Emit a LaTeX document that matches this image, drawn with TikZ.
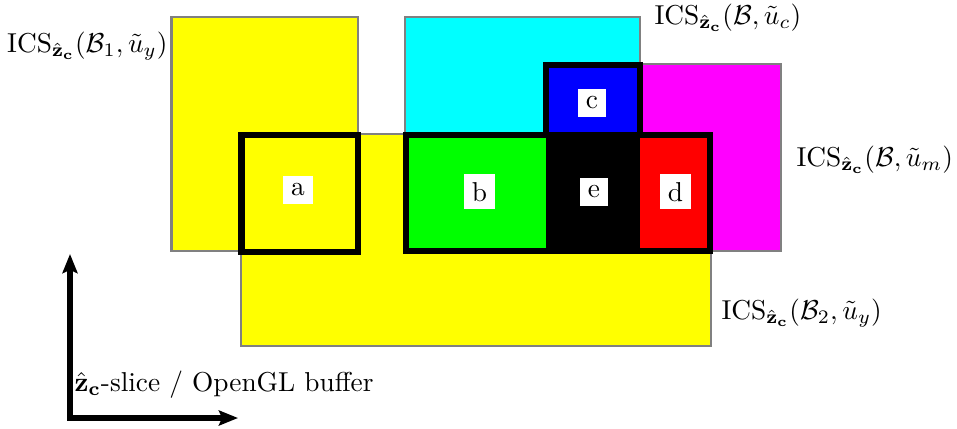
\documentclass[tikz,border=0pt]{standalone}
\usetikzlibrary{arrows.meta}
\newcommand{\zc}{\hat{\mathbf{z}}_{\mathbf{c}}}
\definecolor{cY}{RGB}{255,255,0}
\definecolor{cC}{RGB}{0,255,255}
\definecolor{cM}{RGB}{255,0,255}
\definecolor{cB}{RGB}{0,0,255}
\definecolor{cG}{RGB}{0,255,0}
\definecolor{cR}{RGB}{255,0,0}
\definecolor{cGray}{RGB}{128,128,128}
\begin{document}
\begin{tikzpicture}[x=0.3658pt,y=-0.3658pt,
  region/.style={draw=cGray, line width=0.8pt},
  thickbox/.style={draw=black, line width=2.2pt, line join=miter},
  lbl/.style={fill=white, inner sep=2.9pt},
  settext/.style={inner sep=0pt}]
\useasboundingbox (0,0) rectangle (957,428);
% regions
\filldraw[region, fill=cY] (171.5,17) rectangle (358,251);
\filldraw[region, fill=cY] (241,134) rectangle (711,346);
\filldraw[region, fill=cC] (405,17) rectangle (640,134);
\filldraw[region, fill=cM] (640,64) rectangle (781,251);
% fills
\fill[cG] (406,135) rectangle (546,251);
\fill[black] (546,135) rectangle (640,251);
\fill[cR] (640,135) rectangle (710,251);
\fill[cB] (546,65) rectangle (640,135);
% thick boxes
\draw[thickbox] (241.5,134.5) rectangle (358,251.5);
\draw[thickbox] (406,135) rectangle (710,251);
\draw[thickbox] (546,65) rectangle (640,135);
% labels
\node[lbl] (la) at (298,190) {a};
\node[lbl] (lb) at (479.5,191.7) {b};
\node[lbl] (le) at (594,191.7) {e};
\node[lbl] (ld) at (675.5,191.7) {d};
\node[lbl] (lc) at (592,103) {c};
% set names
\node[settext, anchor=east] (t1) at (168,46) {ICS$_{\zc}(\mathcal{B}_1,\tilde{u}_y)$};
\node[settext, anchor=west] (t2) at (654,18) {ICS$_{\zc}(\mathcal{B},\tilde{u}_c)$};
\node[settext, anchor=west] (t3) at (796,160) {ICS$_{\zc}(\mathcal{B},\tilde{u}_m)$};
\node[settext, anchor=west] (t4) at (721,313) {ICS$_{\zc}(\mathcal{B}_2,\tilde{u}_y)$};
\node[settext, anchor=west] (t5) at (74,385) {$\zc$-slice / OpenGL buffer};
% axes
\coordinate (top) at (70,254);
\coordinate (corner) at (70,418);
\coordinate (right) at (238,418);
\draw[line width=1.85pt, line join=miter, {Stealth[length=7pt,width=5.5pt,inset=1.2pt]}-{Stealth[length=7pt,width=5.5pt,inset=1.2pt]}] (top) -- (corner) -- (right);
\end{tikzpicture}
\end{document}
